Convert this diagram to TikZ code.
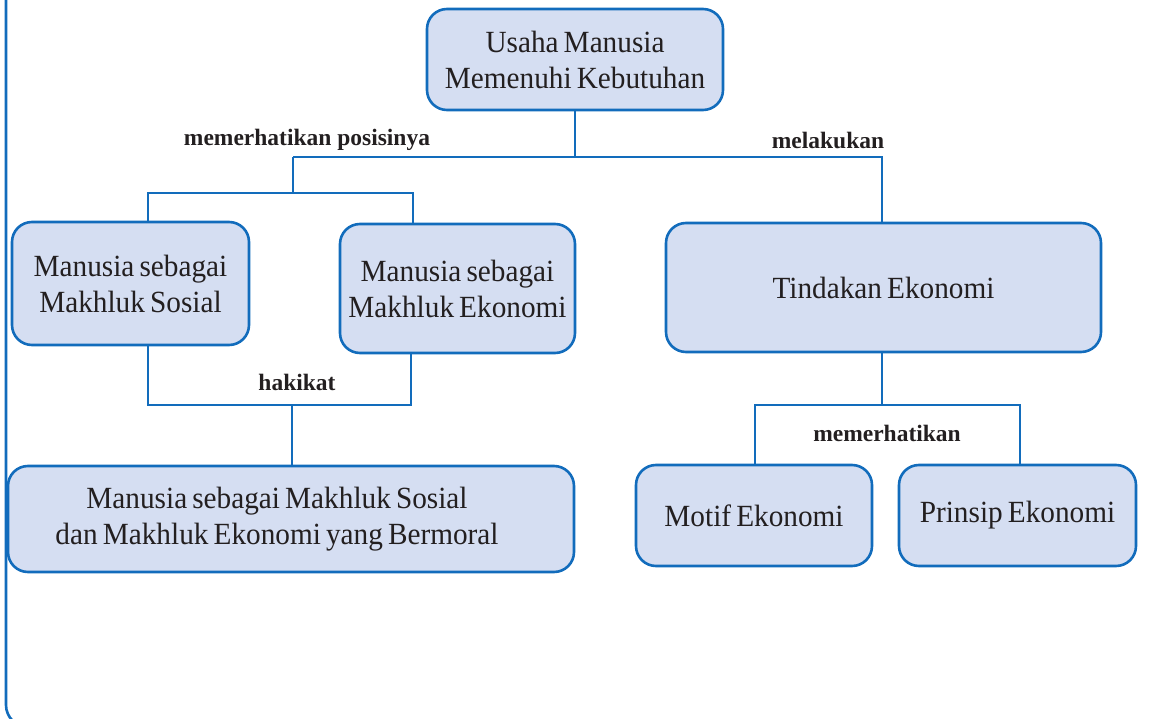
\documentclass[tikz,border=0pt]{standalone}
\usepackage{fontspec}
\setmainfont{Liberation Serif}
\newfontfamily\boxfont{Liberation Serif}[FakeStretch=0.95,WordSpace=0.7]
\definecolor{lineblue}{RGB}{18,108,188}
\definecolor{boxfill}{RGB}{213,222,242}
\definecolor{inkc}{RGB}{35,31,32}
\tikzset{
  cbox/.style={draw=lineblue, line width=2.6pt, fill=boxfill, rounded corners=20pt,
    align=center, text=inkc, font=\boxfont\fontsize{30.8}{36}\selectfont, inner sep=0pt},
  conn/.style={draw=lineblue, line width=2.6pt},
  lbl/.style={text=inkc, font=\fontsize{23.5}{28}\selectfont\bfseries, inner sep=0pt}
}
\begin{document}
\begin{tikzpicture}[x=1pt,y=-1pt]
\useasboundingbox (0,0) rectangle (1175,719);
\begin{scope}
\clip (0,0) rectangle (1175,719);
\draw[lineblue, line width=2.6pt, rounded corners=22pt] (6,-40) rectangle (1188,727);
\end{scope}
% boxes
\node[cbox, minimum width=296pt, minimum height=101pt] (top) at (575,59.5) {Usaha Manusia\\Memenuhi Kebutuhan};
\node[cbox, minimum width=237pt, minimum height=123pt] (sos) at (130.5,283.5) {Manusia sebagai\\Makhluk Sosial};
\node[cbox, minimum width=235pt, minimum height=129pt] (eko) at (457.5,288.5) {Manusia sebagai\\Makhluk Ekonomi};
\node[cbox, minimum width=566pt, minimum height=106pt] (berm) at (291,519) {\begin{tabular}{@{}c@{}}Manusia sebagai Makhluk Sosial\\[0pt]dan Makhluk Ekonomi yang Bermoral\end{tabular}\hspace*{28pt}};
\node[cbox, minimum width=435pt, minimum height=129pt] (tind) at (883.5,287.5) {Tindakan Ekonomi};
\node[cbox, minimum width=236pt, minimum height=101pt] (motif) at (754,515.5) {Motif Ekonomi};
\node[cbox, minimum width=237pt, minimum height=101pt] (prin) at (1017.5,515.5) {Prinsip Ekonomi};
% junction coordinates
\coordinate (hL) at (293,157);
\coordinate (hR) at (882,157);
\coordinate (gM) at (293,193);
\coordinate (gL) at (148,193);
\coordinate (gR) at (413,193);
\coordinate (bL) at (148,405);
\coordinate (bR) at (411,405);
\coordinate (bM) at (292,405);
\coordinate (rM) at (882,405);
\coordinate (rL) at (755,405);
\coordinate (rR) at (1020,405);
% connectors
\draw[conn] (top.south) -- (top.south |- hL);
\draw[conn] (hL) -- (hR) -- (hR |- tind.north);
\draw[conn] (hL) -- (gM);
\draw[conn] (gL |- sos.north) -- (gL) -- (gR) -- (gR |- eko.north);
\draw[conn] (bL |- sos.south) -- (bL) -- (bR) -- (bR |- eko.south);
\draw[conn] (bM) -- (bM |- berm.north);
\draw[conn] (rM |- tind.south) -- (rM);
\draw[conn] (rL |- motif.north) -- (rL) -- (rR) -- (rR |- prin.north);
% labels
\node[lbl] (l1) at (307,140) {memerhatikan posisinya};
\node[lbl] (l2) at (828,140) {melakukan};
\node[lbl] (l3) at (297,382) {hakikat};
\node[lbl] (l4) at (887,433) {memerhatikan};
\end{tikzpicture}
\end{document}
